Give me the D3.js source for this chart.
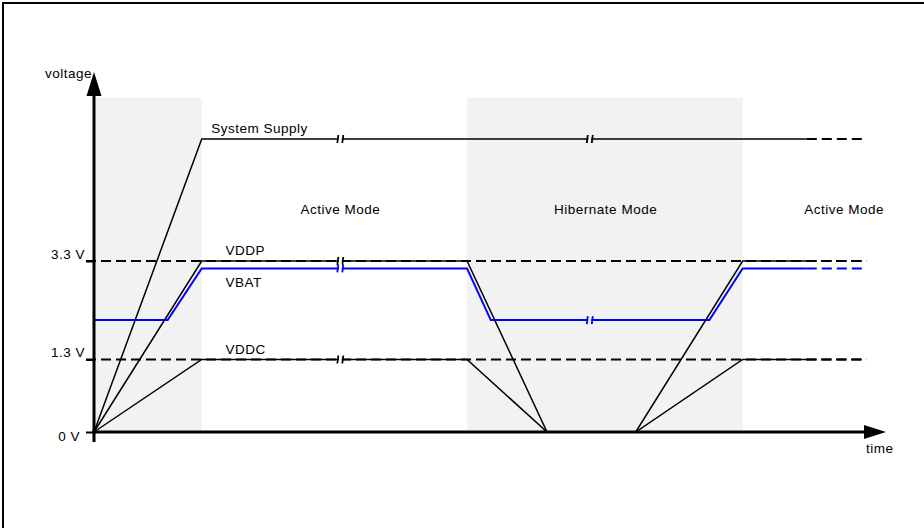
<!DOCTYPE html>
<html lang="en">

<head>
  <meta charset="utf-8">
  <title>Power modes timing</title>
  <script src="https://d3js.org/d3.v7.min.js"></script>
  <style>
    body { margin: 0; background: white; }
    text {
      font-family: "Liberation Sans", Arial, sans-serif;
      font-size: 13.5px;
      letter-spacing: 0.5px;
      fill: black;
    }
  </style>
</head>

<body>
  <div id="chart"></div>
  <script>
    var w = 924;
    var h = 528;

    // time in arbitrary units, voltage in volts (schematic scale)
    var sysT = [0, 13.6, 90];
    var sysV = [0, 5, 5];
    var vddpT = [0, 13.6, 47.1, 57.2, 68.4, 81.9, 90];
    var vddpV = [0, 3.3, 3.3, 0, 0, 3.3, 3.3];
    var vddcT = [0, 13.6, 47.1, 57.2, 68.4, 81.9, 90];
    var vddcV = [0, 1.3, 1.3, 0, 0, 1.3, 1.3];
    var vbatT = [0, 9.3, 13.6, 47.1, 50.1, 77.7, 81.9, 90];
    var vbatV = [2.1, 2.1, 3.15, 3.15, 2.1, 2.1, 3.15, 3.15];

    var tailEnd = 97.5;             // dashed continuation
    var yTicks = [0, 1.3, 3.3];
    var yTickLabels = ['0 V', '1.3 V', '3.3 V'];
    var refLevels = [1.3, 3.3];
    var bands = [[0, 13.6], [47.1, 81.9]];
    var modeNames = ['Active Mode', 'Hibernate Mode', 'Active Mode'];
    var modeT = [31.1, 64.6, 94.7];
    var breaksT = [31.1, 62.6];

    var x = d3.scaleLinear().domain([0, 100]).range([94, 886]);
    var y = d3.scaleLinear().domain([0, 1.3, 3.3, 5]).range([432, 359.5, 261, 139]);

    var svg = d3.select('#chart').append('svg')
      .attr('width', w)
      .attr('height', h);

    // frame
    svg.append('rect')
      .attr('x', 3).attr('y', 3)
      .attr('width', 940).attr('height', 560)
      .attr('fill', 'white')
      .attr('stroke', 'black')
      .attr('stroke-width', 2);

    // shaded power-up / hibernate regions
    svg.selectAll('rect.band')
      .data(bands)
      .enter().append('rect')
      .attr('class', 'band')
      .attr('x', function (d) { return x(d[0]); })
      .attr('y', 98)
      .attr('width', function (d) { return x(d[1]) - x(d[0]); })
      .attr('height', function () { return y(0) - 98; })
      .attr('fill', '#f2f2f2');

    // reference dashed lines 1.3 V / 3.3 V
    svg.selectAll('line.ref')
      .data(refLevels)
      .enter().append('line')
      .attr('class', 'ref')
      .attr('x1', x(0) - 8)
      .attr('x2', x(tailEnd))
      .attr('y1', function (d) { return y(d); })
      .attr('y2', function (d) { return y(d); })
      .attr('stroke', 'black')
      .attr('stroke-width', 2)
      .attr('stroke-dasharray', '10,5');

    var line = d3.line()
      .x(function (d) { return x(d[0]); })
      .y(function (d) { return y(d[1]); });

    var series = [
      { t: sysT, v: sysV, color: 'black', sw: 1.5 },
      { t: vddpT, v: vddpV, color: 'black', sw: 1.5 },
      { t: vddcT, v: vddcV, color: 'black', sw: 1.5 },
      { t: vbatT, v: vbatV, color: '#0000ff', sw: 2 }
    ];

    series.forEach(function (s) {
      var pts = d3.zip(s.t, s.v);
      svg.append('path')
        .attr('d', line(pts))
        .attr('fill', 'none')
        .attr('stroke', s.color)
        .attr('stroke-width', s.sw)
        .attr('stroke-linejoin', 'miter');
      var last = pts[pts.length - 1];
      svg.append('path')
        .attr('d', line([last, [tailEnd, last[1]]]))
        .attr('fill', 'none')
        .attr('stroke', s.color)
        .attr('stroke-width', 2)
        .attr('stroke-dasharray', '10,5');
    });

    // break marks on the flat segments
    function levelAt(s, t) {
      for (var i = 1; i < s.t.length; i++) {
        if (t <= s.t[i]) {
          var f = (t - s.t[i - 1]) / (s.t[i] - s.t[i - 1]);
          return s.v[i - 1] + f * (s.v[i] - s.v[i - 1]);
        }
      }
      return s.v[s.v.length - 1];
    }
    var breakMarks = [];
    breaksT.forEach(function (t) {
      series.forEach(function (s) {
        var v = levelAt(s, t);
        if (v > 0) breakMarks.push({ t: t, v: v, color: s.color });
      });
    });
    var bm = svg.selectAll('g.brk')
      .data(breakMarks)
      .enter().append('g')
      .attr('class', 'brk')
      .attr('transform', function (d) {
        return 'translate(' + x(d.t) + ',' + y(d.v) + ')';
      });
    bm.append('rect')
      .attr('x', -1.5).attr('y', -5)
      .attr('width', 3).attr('height', 10)
      .attr('fill', function (d) {
        return (d.t > bands[1][0] && d.t < bands[1][1]) ? '#f2f2f2' : 'white';
      });
    [-2.5, 2.5].forEach(function (dx) {
      bm.append('line')
        .attr('x1', dx - 0.5).attr('y1', 4)
        .attr('x2', dx + 0.5).attr('y2', -4)
        .attr('stroke', function (d) { return d.color; })
        .attr('stroke-width', 1.8);
    });

    // axes
    svg.append('line')
      .attr('x1', x(0)).attr('x2', x(0))
      .attr('y1', y(0) + 10).attr('y2', 95)
      .attr('stroke', 'black').attr('stroke-width', 3);
    svg.append('path')
      .attr('d', 'M' + x(0) + ',72 L' + (x(0) - 7.5) + ',96 L' + (x(0) + 7.5) + ',96 Z')
      .attr('fill', 'black');
    svg.append('line')
      .attr('x1', x(0) - 2).attr('x2', 866)
      .attr('y1', y(0)).attr('y2', y(0))
      .attr('stroke', 'black').attr('stroke-width', 3);
    svg.append('path')
      .attr('d', 'M886,' + y(0) + ' L864,' + (y(0) - 7) + ' L864,' + (y(0) + 7) + ' Z')
      .attr('fill', 'black');

    var yAxis = d3.axisLeft(y)
      .tickValues(yTicks)
      .tickFormat(function (d, i) { return yTickLabels[i]; })
      .tickSize(8)
      .tickPadding(1);
    var ga = svg.append('g')
      .attr('transform', 'translate(' + x(0) + ',0)')
      .call(yAxis);
    ga.select('.domain').remove();
    ga.selectAll('.tick line').attr('stroke', 'black').attr('stroke-width', 2);
    ga.selectAll('.tick text')
      .attr('font-family', null)
      .attr('font-size', null)
      .attr('fill', 'black')
      .attr('dx', function (d) { return d === 0 ? -5 : 0; })
      .attr('dy', function (d) { return d === 0 ? '0.6em' : '-0.2em'; });

    svg.append('text').attr('x', 92).attr('y', 78)
      .attr('text-anchor', 'end').text('voltage');
    svg.append('text').attr('x', 866).attr('y', 453).text('time');

    // series labels
    var seriesLabels = [
      { text: 'System Supply', t: 14.8, v: 5, dy: -6 },
      { text: 'VDDP', t: 16.6, v: 3.3, dy: -6 },
      { text: 'VBAT', t: 16.6, v: 3.15, dy: 19 },
      { text: 'VDDC', t: 16.6, v: 1.3, dy: -6 }
    ];
    svg.selectAll('text.slabel')
      .data(seriesLabels)
      .enter().append('text')
      .attr('class', 'slabel')
      .attr('x', function (d) { return x(d.t); })
      .attr('y', function (d) { return y(d.v) + d.dy; })
      .text(function (d) { return d.text; });

    // mode labels
    svg.selectAll('text.mode')
      .data(modeNames)
      .enter().append('text')
      .attr('class', 'mode')
      .attr('x', function (d, i) { return x(modeT[i]); })
      .attr('y', 214)
      .attr('text-anchor', 'middle')
      .text(function (d) { return d; });
  </script>
</body>

</html>
